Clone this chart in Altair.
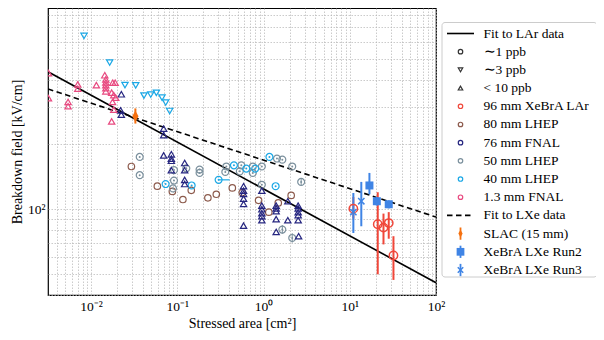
import altair as alt
import pandas as pd

FONT = "Liberation Serif"

# ---------------- data ----------------
x_domain = [0.00316, 100.0]
y_domain = [40.0, 860.0]

fit_area = [0.00316, 100.0]
fit_lar_field = [435.0, 45.6]
fit_lxe_field = [362.0, 92.0]

# 1.3 mm FNAL (<10 ppb, triangle up)
fnal13_area = [0.0032, 0.0032, 0.0054, 0.0054, 0.0070, 0.0070, 0.0115, 0.0144, 0.0148, 0.0148,
               0.0148, 0.0148, 0.0148, 0.0178, 0.0190, 0.0173, 0.0183, 0.0193, 0.0177, 0.0183, 0.0173]
fnal13_field = [429, 328, 315, 301, 380, 363, 377, 419, 401, 388,
                377, 365, 353, 387, 387, 348, 339, 330, 315, 290, 256]

# 40 mm LHEP (~3 ppb, triangle down)
lhep40t_area = [0.00827, 0.0164, 0.0247, 0.0329, 0.0410, 0.0491, 0.0571, 0.0664, 0.0732, 0.0814]
lhep40t_field = [638, 480, 377, 376, 337, 341, 347, 330, 313, 286]

# 76 mm FNAL (<10 ppb, triangle up)
fnal76_area = [0.0224, 0.0220, 0.0224, 0.0694, 0.0694, 0.0694, 0.0852, 0.0852, 0.0852, 0.0852,
               0.1216, 0.1216, 0.1216, 0.1216,
               0.586, 0.586, 0.586, 0.586, 0.586, 0.586,
               0.955, 0.955, 0.955, 0.955, 0.955, 0.955,
               1.40, 1.40, 1.40, 1.40, 1.40, 1.91, 1.91,
               2.52, 2.52, 2.52, 2.52, 2.52, 2.55]
fnal76_field = [342, 288, 275, 237, 221, 178, 180, 172, 168, 152,
                164, 152, 137, 131,
                128, 122, 118, 112, 106, 84,
                122, 104, 100, 96, 93, 89,
                104, 101, 98, 90, 78.5, 109, 89,
                104, 101, 97, 94, 89, 75]

# 50 mm LHEP (~1 ppb, circle)
lhep50_area = [0.0366, 0.0366, 0.0914, 0.0914, 0.0890, 0.127, 0.181, 0.181, 0.37, 0.36,
               0.552, 0.53, 0.751, 0.75, 0.955, 0.955, 1.43, 1.65, 2.15, 2.73, 1.65, 2.15]
lhep50_field = [175, 144, 152, 136, 125, 155, 153, 147.5, 158, 149,
                160, 150, 158, 147.5, 158, 130, 172, 170, 158, 134, 80.5, 73.6]
lhep50_err_area = [2.73, 1.65, 2.15]
lhep50_err_lo = [129, 77, 70]
lhep50_err_hi = [139, 84.5, 77.5]

# 40 mm LHEP (~1 ppb, circle)
lhep40_area = [0.0731, 0.1465, 0.453, 0.63, 0.80, 1.17, 1.38, 0.301]
lhep40_field = [131, 129, 160, 154.5, 154.5, 175, 128, 137]
lhep40_xerr_lo = [0.301]
lhep40_xerr_hi = [0.404]
lhep40_xerr_field = [137]

# 80 mm LHEP (~1 ppb, plain circle)
lhep80_area = [0.0293, 0.0586, 0.0875, 0.145, 0.116, 0.226, 0.283, 0.434, 0.566, 0.875, 1.15, 1.48, 2.09]
lhep80_field = [158, 128, 121, 122.5, 111, 113, 117.4, 125.6, 119.6, 110, 97, 107, 116]

# 96 mm XeBrA LAr
xlar_area = [11.0, 21.1, 24.6, 28.3, 32.1]
xlar_field = [100.7, 85.2, 82.2, 86.3, 61.0]
xlar_lo = [90.5, 49.9, 68.7, 73.0, 47.0]
xlar_hi = [114.0, 120.0, 95.5, 97.0, 75.0]

# XeBrA LXe Run2
run2_area = [16.9, 20.6, 28.3]
run2_field = [129.0, 109.0, 105.5]
run2_lo = [117.4, 104.0, 101.0]
run2_hi = [147.5, 114.0, 110.0]

# XeBrA LXe Run3
run3_area = [11.0, 13.6]
run3_field = [97.0, 109.0]
run3_lo = [77.6, 83.4]
run3_hi = [119.0, 134.0]

# SLAC (15 mm)
slac_area = [0.0326]
slac_field = [270.0]
slac_lo = [250.0]
slac_hi = [294.0]

# colours
c_navy = "#262680"
c_grey = "#7b909d"
c_cyan = "#1ba8e6"
c_pink = "#e84a80"
c_brown = "#8c5a4c"
c_red = "#f0473a"
c_orange = "#f5700f"
c_blue = "#3f84e5"
c_dark = "#333333"

DIAMOND = "M0,-1L0.55,0L0,1L-0.55,0Z"
XMARK = "M-1,-1L1,1M-1,1L1,-1"
VBAR = "M0,-1L0,1"

legend_labels = ["Fit to LAr data", "\u223c1 ppb", "\u223c3 ppb", "< 10 ppb", "96 mm XeBrA LAr",
                 "80 mm LHEP", "76 mm FNAL", "50 mm LHEP", "40 mm LHEP", "1.3 mm FNAL",
                 "Fit to LXe data", "SLAC (15 mm)", "XeBrA LXe Run2", "XeBrA LXe Run3"]
legend_kind = ["line", "open", "open", "open", "open", "open", "open", "open", "open", "open",
               "dash", "errfill", "errfill", "erropen"]
legend_shape = ["circle", "circle", "triangle-down", "triangle-up", "circle", "circle", "circle",
                "circle", "circle", "circle", "circle", DIAMOND, "square", XMARK]
legend_color = ["black", c_dark, c_dark, c_dark, c_red, c_brown, c_navy, c_grey, c_cyan, c_pink,
                "black", c_orange, c_blue, c_blue]

# ---------------- tables ----------------
rows = []


def add(area, field, color, shape, size, filled, sw=1.2):
    for a, e in zip(area, field):
        rows.append(dict(A=a, E=e, color=color, shape=shape, size=size, filled=filled, sw=sw))


add(lhep80_area, lhep80_field, c_brown, "circle", 42, False)
add(lhep50_area, lhep50_field, c_grey, "circle", 48, False)
add(lhep40_area, lhep40_field, c_cyan, "circle", 48, False)
add(fnal76_area, fnal76_field, c_navy, "triangle-up", 40, False)
add(lhep40t_area, lhep40t_field, c_cyan, "triangle-down", 40, False)
add(fnal13_area, fnal13_field, c_pink, "triangle-up", 40, False)
add(xlar_area, xlar_field, c_red, "circle", 70, False, 1.5)
add(run3_area, run3_field, c_blue, XMARK, 40, False, 1.5)
add(run2_area, run2_field, c_blue, "square", 64, True)
add(slac_area, slac_field, c_orange, DIAMOND, 130, True)
markers = pd.DataFrame(rows)

dots = pd.DataFrame(dict(A=lhep50_area + lhep40_area, E=lhep50_field + lhep40_field,
                         color=[c_grey] * len(lhep50_area) + [c_cyan] * len(lhep40_area)))

err_rows = []


def add_err(area, lo, hi, color, sw):
    for a, l, h in zip(area, lo, hi):
        err_rows.append(dict(A=a, lo=l, hi=h, color=color, sw=sw))


add_err(lhep50_err_area, lhep50_err_lo, lhep50_err_hi, c_grey, 1.0)
add_err(xlar_area, xlar_lo, xlar_hi, c_red, 2.0)
add_err(run3_area, run3_lo, run3_hi, c_blue, 2.0)
add_err(run2_area, run2_lo, run2_hi, c_blue, 2.0)
add_err(slac_area, slac_lo, slac_hi, c_orange, 2.0)
errs = pd.DataFrame(err_rows)

xerrs = pd.DataFrame(dict(lo=lhep40_xerr_lo, hi=lhep40_xerr_hi, E=lhep40_xerr_field))

fits = pd.DataFrame(dict(A=fit_area + fit_area, E=fit_lar_field + fit_lxe_field,
                         fit=["LAr", "LAr", "LXe", "LXe"]))

legend_df = pd.DataFrame(dict(label=legend_labels, kind=legend_kind, shape=legend_shape,
                              color=legend_color))

# ---------------- scales / axes ----------------
x_vals = []
for p in [-3, -2, -1, 0, 1]:
    for m in range(1, 10):
        v = float(f"{m}e{p}")
        if x_domain[0] <= v <= x_domain[1]:
            x_vals.append(v)
x_vals.append(100.0)
y_vals = [40, 50, 60, 70, 80, 90, 100, 200, 300, 400, 500, 600, 700, 800]

x_label = ("datum.value == 0.01 ? '10\u207b\u00b2' : datum.value == 0.1 ? '10\u207b\u00b9' : "
           "datum.value == 1 ? '10\u2070' : datum.value == 10 ? '10\u00b9' : "
           "datum.value == 100 ? '10\u00b2' : ''")
y_label = "datum.value == 100 ? '10\u00b2' : ''"

xscale = alt.Scale(type="log", domain=x_domain, nice=False)
yscale = alt.Scale(type="log", domain=y_domain, nice=False)

xaxis = alt.Axis(values=x_vals, labelExpr=x_label, ticks=False, domain=False, labelOverlap=False,
                 labelFlush=False, labelPadding=4, titlePadding=4, grid=True)
yaxis = alt.Axis(values=y_vals, labelExpr=y_label, ticks=False, domain=False, labelOverlap=False,
                 labelFlush=False, labelPadding=3, titlePadding=3, grid=True)

X = alt.X("A:Q", scale=xscale, axis=xaxis, title="Stressed area [cm\u00b2]")
Y = alt.Y("E:Q", scale=yscale, axis=yaxis, title="Breakdown field [kV/cm]")

fit_lar = alt.Chart(fits).transform_filter("datum.fit == 'LAr'").mark_line(
    color="black", strokeWidth=1.6, clip=True).encode(x=X, y=Y)
fit_lxe = alt.Chart(fits).transform_filter("datum.fit == 'LXe'").mark_line(
    color="black", strokeWidth=1.6, strokeDash=[5.5, 3.5], clip=True).encode(x=X, y=Y)

err_layer = alt.Chart(errs).mark_rule(clip=True).encode(
    x=alt.X("A:Q", scale=xscale),
    y=alt.Y("lo:Q", scale=yscale),
    y2="hi:Q",
    color=alt.Color("color:N", scale=None),
    strokeWidth=alt.StrokeWidth("sw:Q", scale=None),
)
xerr_layer = alt.Chart(xerrs).mark_rule(clip=True, color=c_cyan, strokeWidth=1.2).encode(
    x=alt.X("lo:Q", scale=xscale), x2="hi:Q", y=alt.Y("E:Q", scale=yscale))

open_layer = alt.Chart(markers).transform_filter("!datum.filled").mark_point(
    filled=False, opacity=1, clip=True).encode(
    x=X, y=Y,
    color=alt.Color("color:N", scale=None),
    shape=alt.Shape("shape:N", scale=None),
    size=alt.Size("size:Q", scale=None),
    strokeWidth=alt.StrokeWidth("sw:Q", scale=None),
)
filled_layer = alt.Chart(markers).transform_filter("datum.filled").mark_point(
    filled=True, opacity=1, clip=True).encode(
    x=X, y=Y,
    color=alt.Color("color:N", scale=None),
    shape=alt.Shape("shape:N", scale=None),
    size=alt.Size("size:Q", scale=None),
)
dot_layer = alt.Chart(dots).mark_point(filled=True, opacity=1, size=4, clip=True).encode(
    x=X, y=Y, color=alt.Color("color:N", scale=None))

main = alt.layer(fit_lar, fit_lxe, err_layer, xerr_layer, open_layer, filled_layer, dot_layer)

# ---------------- legend (drawn with its own point scale) ----------------
LY = alt.Y("label:N", scale=alt.Scale(type="point", domain=legend_labels, range=[25.5, 262], padding=0),
           axis=None)
SYM_X = 412.5

leg_box = alt.Chart(pd.DataFrame({"k": [0]})).mark_rect(
    fill="white", stroke="#cccccc", strokeWidth=1, cornerRadius=3).encode(
    x=alt.value(394), x2=alt.value(549), y=alt.value(14.5), y2=alt.value(269))
leg_line = alt.Chart(legend_df).transform_filter("datum.kind == 'line'").mark_rule(
    color="black", strokeWidth=1.6).encode(x=alt.value(399), x2=alt.value(426), y=LY)
leg_dash = alt.Chart(legend_df).transform_filter("datum.kind == 'dash'").mark_rule(
    color="black", strokeWidth=1.6, strokeDash=[5.5, 3.5]).encode(x=alt.value(399), x2=alt.value(426), y=LY)
leg_err = alt.Chart(legend_df).transform_filter("datum.kind == 'errfill' || datum.kind == 'erropen'").mark_point(
    shape=VBAR, size=150, strokeWidth=1.8, filled=False, opacity=1).encode(
    x=alt.value(SYM_X), y=LY, color=alt.Color("color:N", scale=None))
leg_open = alt.Chart(legend_df).transform_filter("datum.kind == 'open'").mark_point(
    filled=False, opacity=1, size=20, strokeWidth=1.2).encode(
    x=alt.value(SYM_X), y=LY, color=alt.Color("color:N", scale=None),
    shape=alt.Shape("shape:N", scale=None))
leg_xmark = alt.Chart(legend_df).transform_filter("datum.kind == 'erropen'").mark_point(
    filled=False, opacity=1, size=30, strokeWidth=1.5).encode(
    x=alt.value(SYM_X), y=LY, color=alt.Color("color:N", scale=None),
    shape=alt.Shape("shape:N", scale=None))
leg_fill = alt.Chart(legend_df).transform_filter("datum.kind == 'errfill'").mark_point(
    filled=True, opacity=1, size=60).encode(
    x=alt.value(SYM_X), y=LY, color=alt.Color("color:N", scale=None),
    shape=alt.Shape("shape:N", scale=None))
leg_text = alt.Chart(legend_df).mark_text(
    align="left", baseline="middle", font=FONT, fontSize=13.5, color="black").encode(
    x=alt.value(435.5), y=LY, text="label:N")

legend = alt.layer(leg_box, leg_line, leg_dash, leg_err, leg_open, leg_xmark, leg_fill, leg_text)

chart = alt.layer(main, legend).resolve_scale(y="independent").properties(
    width=388, height=287,
    autosize=alt.AutoSizeParams(type="none"),
    padding={"left": 40, "top": 0, "right": 160, "bottom": 37},
).configure_view(stroke="black", strokeWidth=1.2).configure_axis(
    labelFont=FONT, labelFontSize=13.5, labelColor="black",
    titleFont=FONT, titleFontSize=14, titleFontWeight="normal", titleColor="black",
    gridColor="#b5b5b5", gridDash=[1.5, 1.5], gridWidth=0.7,
)

chart.save("out.html", embed_options={"renderer": "svg", "actions": False})
